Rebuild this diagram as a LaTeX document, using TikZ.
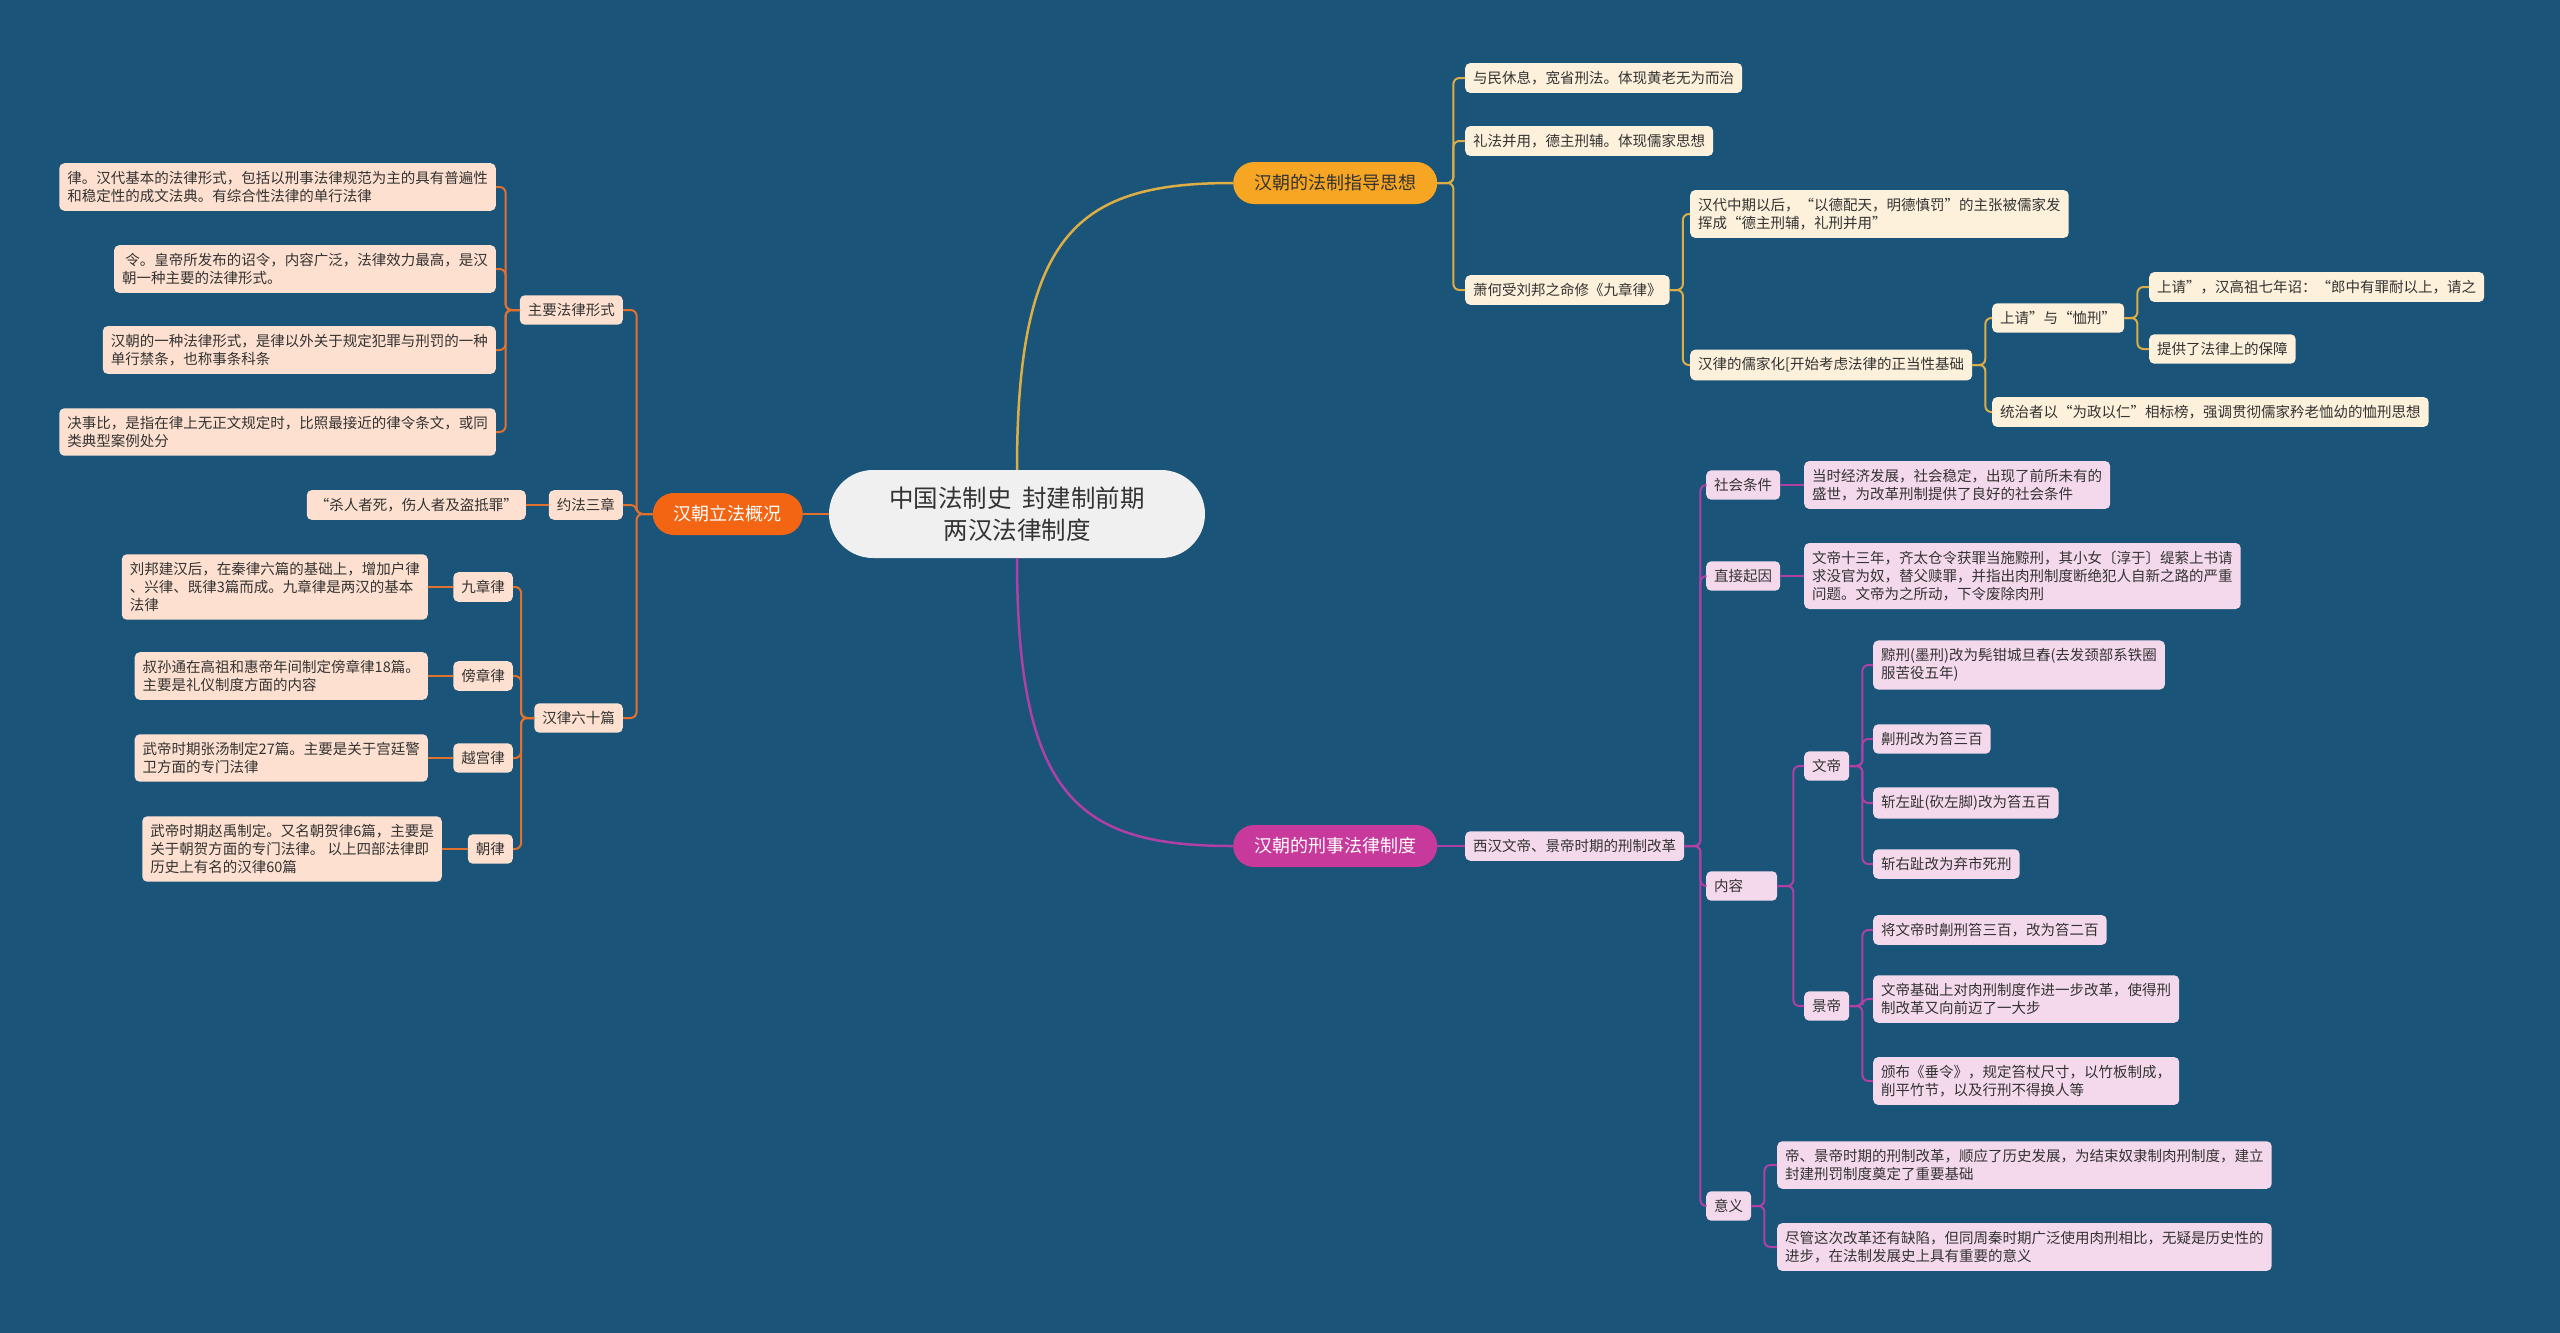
\documentclass[tikz,border=0pt]{standalone}
\usepackage{fontspec}
\newfontfamily\cjk{Noto Sans CJK SC}
\definecolor{bg}{HTML}{1A5479}
\definecolor{rootfill}{HTML}{F0F0F0}
\definecolor{ink}{HTML}{333333}
\definecolor{orangeline}{HTML}{E2712E}
\definecolor{orangefill}{HTML}{F36513}
\definecolor{peach}{HTML}{FDE0CF}
\definecolor{goldline}{HTML}{DDAE45}
\definecolor{goldfill}{HTML}{F6A623}
\definecolor{cream}{HTML}{FDF1DB}
\definecolor{plumline}{HTML}{B040A6}
\definecolor{plumfill}{HTML}{C8399C}
\definecolor{pink}{HTML}{F4D9EC}

\tikzset{
	root/.style={fill=rootfill, text=ink, rounded corners=44pt, minimum width=376pt, minimum height=88pt, align=center, font=\cjk\fontsize{24.5}{32}\selectfont},
	mainbox/.style={rounded corners=21pt, minimum height=42pt, inner xsep=21pt, font=\cjk\fontsize{18}{22}\selectfont},
	leaf/.style={rounded corners=5pt, inner xsep=8pt, inner ysep=8pt, align=left, text=ink, font=\cjk\fontsize{14.5}{18}\selectfont},
	leafo/.style={leaf, fill=peach},
	leafy/.style={leaf, fill=cream},
	leafm/.style={leaf, fill=pink},
	oline/.style={draw=orangeline, line width=2pt, rounded corners=6pt},
	yline/.style={draw=goldline, line width=2pt, rounded corners=6pt},
	mline/.style={draw=plumline, line width=2pt, rounded corners=6pt},
}

\begin{document}
\begin{tikzpicture}[x=1pt, y=-1pt]
	\fill[bg] (0,0) rectangle (2560,1333);
	\useasboundingbox (0,0) rectangle (2560,1333);

	\node[root] (root) at (1017,514) {中国法制史\ \ 封建制前期\\两汉法律制度};
	\node[mainbox, fill=orangefill, text=white, anchor=east] (lifa) at (803,514) {汉朝立法概况};
	\node[mainbox, fill=goldfill, text=ink, anchor=west] (sixiang) at (1233,183) {汉朝的法制指导思想};
	\node[mainbox, fill=plumfill, text=white, anchor=west] (xingfa) at (1233,846) {汉朝的刑事法律制度};

	\draw[orangeline, line width=2.5pt] (root.west) -- (lifa.east);
	\draw[goldline, line width=2.5pt] (root.north) .. controls (1017,230) and (1080,183) .. (sixiang.west);
	\draw[plumline, line width=2.5pt] (root.south) .. controls (1017,800) and (1080,846) .. (xingfa.west);

	% left side
	\node[leafo, anchor=east] (forms) at (623,310) {主要法律形式};
	\node[leafo, anchor=east] (yuefa) at (623,505) {约法三章};
	\node[leafo, anchor=east] (hanlv) at (623,718) {汉律六十篇};
	\foreach \c in {forms,yuefa,hanlv}
		\draw[oline] (lifa.west) -- ++(-16,0) |- (\c.east);

	\node[leafo, anchor=east] (f1) at (496,187) {律。汉代基本的法律形式，包括以刑事法律规范为主的具有普遍性\\和稳定性的成文法典。有综合性法律的单行法律};
	\node[leafo, anchor=east] (f2) at (496,269) {\ 令。皇帝所发布的诏令，内容广泛，法律效力最高，是汉\\朝一种主要的法律形式。};
	\node[leafo, anchor=east] (f3) at (496,350) {汉朝的一种法律形式，是律以外关于规定犯罪与刑罚的一种\\单行禁条，也称事条科条};
	\node[leafo, anchor=east] (f4) at (496,432) {决事比，是指在律上无正文规定时，比照最接近的律令条文，或同\\类典型案例处分};
	\foreach \c in {f1,f2,f3,f4}
		\draw[oline] (forms.west) -- ++(-14,0) |- (\c.east);

	\node[leafo, anchor=east] (yf1) at (526,505) {“杀人者死，伤人者及盗抵罪”};
	\draw[oline] (yuefa.west) -- (yf1.east);

	\node[leafo, anchor=east] (jzl) at (513,587) {九章律};
	\node[leafo, anchor=east] (bzl) at (513,676) {傍章律};
	\node[leafo, anchor=east] (ygl) at (513,758) {越宫律};
	\node[leafo, anchor=east] (cl) at (513,849) {朝律};
	\foreach \c in {jzl,bzl,ygl,cl}
		\draw[oline] (hanlv.west) -- ++(-13,0) |- (\c.east);

	\node[leafo, anchor=east] (jzl1) at (428,587) {刘邦建汉后，在秦律六篇的基础上，增加户律\\、兴律、既律3篇而成。九章律是两汉的基本\\法律};
	\node[leafo, anchor=east] (bzl1) at (428,676) {叔孙通在高祖和惠帝年间制定傍章律18篇。\\主要是礼仪制度方面的内容};
	\node[leafo, anchor=east] (ygl1) at (428,758) {武帝时期张汤制定27篇。主要是关于宫廷警\\卫方面的专门法律};
	\node[leafo, anchor=east] (cl1) at (442,849) {武帝时期赵禹制定。又名朝贺律6篇，主要是\\关于朝贺方面的专门法律。 以上四部法律即\\历史上有名的汉律60篇};
	\draw[oline] (jzl.west) -- (jzl1.east);
	\draw[oline] (bzl.west) -- (bzl1.east);
	\draw[oline] (ygl.west) -- (ygl1.east);
	\draw[oline] (cl.west) -- (cl1.east);

	% right side, top
	\node[leafy, anchor=west] (s1) at (1465,78) {与民休息，宽省刑法。体现黄老无为而治};
	\node[leafy, anchor=west] (s2) at (1465,141) {礼法并用，德主刑辅。体现儒家思想};
	\node[leafy, anchor=west] (xiaohe) at (1465,290) {萧何受刘邦之命修《九章律》};
	\foreach \c in {s1,s2,xiaohe}
		\draw[yline] (sixiang.east) -- ++(16,0) |- (\c.west);

	\node[leafy, anchor=west] (x1) at (1690,214) {汉代中期以后，“以德配天，明德慎罚”的主张被儒家发\\挥成“德主刑辅，礼刑并用”};
	\node[leafy, anchor=west] (rujia) at (1690,365) {汉律的儒家化[开始考虑法律的正当性基础};
	\foreach \c in {x1,rujia}
		\draw[yline] (xiaohe.east) -- ++(13,0) |- (\c.west);

	\node[leafy, anchor=west] (shangqing) at (1992,318) {上请”与“恤刑”};
	\node[leafy, anchor=west] (r2) at (1992,412) {统治者以“为政以仁”相标榜，强调贯彻儒家矜老恤幼的恤刑思想};
	\foreach \c in {shangqing,r2}
		\draw[yline] (rujia.east) -- ++(13,0) |- (\c.west);

	\node[leafy, anchor=west] (q1) at (2149,287) {上请”，汉高祖七年诏：“郎中有罪耐以上，请之};
	\node[leafy, anchor=west] (q2) at (2149,349) {提供了法律上的保障};
	\foreach \c in {q1,q2}
		\draw[yline] (shangqing.east) -- ++(13,0) |- (\c.west);

	% right side, bottom
	\node[leafm, anchor=west] (gaige) at (1465,846) {西汉文帝、景帝时期的刑制改革};
	\draw[mline] (xingfa.east) -- (gaige.west);

	\node[leafm, anchor=west] (shehui) at (1706,485) {社会条件};
	\node[leafm, anchor=west] (qiyin) at (1706,576) {直接起因};
	\node[leafm, anchor=west, text width=55pt] (neirong) at (1706,886) {内容};
	\node[leafm, anchor=west] (yiyi) at (1706,1206) {意义};
	\foreach \c in {shehui,qiyin,neirong,yiyi}
		\draw[mline] (gaige.east) -- ++(16,0) |- (\c.west);

	\node[leafm, anchor=west] (sh1) at (1804,485) {当时经济发展，社会稳定，出现了前所未有的\\盛世，为改革刑制提供了良好的社会条件};
	\node[leafm, anchor=west] (qy1) at (1804,576) {文帝十三年，齐太仓令获罪当施黥刑，其小女〔淳于〕缇萦上书请\\求没官为奴，替父赎罪，并指出肉刑制度断绝犯人自新之路的严重\\问题。文帝为之所动，下令废除肉刑};
	\draw[mline] (shehui.east) -- (sh1.west);
	\draw[mline] (qiyin.east) -- (qy1.west);

	\node[leafm, anchor=west] (wendi) at (1804,766) {文帝};
	\node[leafm, anchor=west] (jingdi) at (1804,1006) {景帝};
	\foreach \c in {wendi,jingdi}
		\draw[mline] (neirong.east) -- ++(16,0) |- (\c.west);

	\node[leafm, anchor=west] (w1) at (1873,665) {黥刑(墨刑)改为髡钳城旦舂(去发颈部系铁圈\\服苦役五年)};
	\node[leafm, anchor=west] (w2) at (1873,739) {劓刑改为笞三百};
	\node[leafm, anchor=west] (w3) at (1873,803) {斩左趾(砍左脚)改为笞五百};
	\node[leafm, anchor=west] (w4) at (1873,864) {斩右趾改为弃市死刑};
	\foreach \c in {w1,w2,w3,w4}
		\draw[mline] (wendi.east) -- ++(13,0) |- (\c.west);

	\node[leafm, anchor=west] (j1) at (1873,930) {将文帝时劓刑笞三百，改为笞二百};
	\node[leafm, anchor=west] (j2) at (1873,999) {文帝基础上对肉刑制度作进一步改革，使得刑\\制改革又向前迈了一大步};
	\node[leafm, anchor=west] (j3) at (1873,1081) {颁布《垂令》，规定笞杖尺寸，以竹板制成，\\削平竹节，以及行刑不得换人等};
	\foreach \c in {j1,j2,j3}
		\draw[mline] (jingdi.east) -- ++(13,0) |- (\c.west);

	\node[leafm, anchor=west] (y1) at (1777,1165) {帝、景帝时期的刑制改革，顺应了历史发展，为结束奴隶制肉刑制度，建立\\封建刑罚制度奠定了重要基础};
	\node[leafm, anchor=west] (y2) at (1777,1247) {尽管这次改革还有缺陷，但同周秦时期广泛使用肉刑相比，无疑是历史性的\\进步，在法制发展史上具有重要的意义};
	\foreach \c in {y1,y2}
		\draw[mline] (yiyi.east) -- ++(13,0) |- (\c.west);
\end{tikzpicture}
\end{document}
